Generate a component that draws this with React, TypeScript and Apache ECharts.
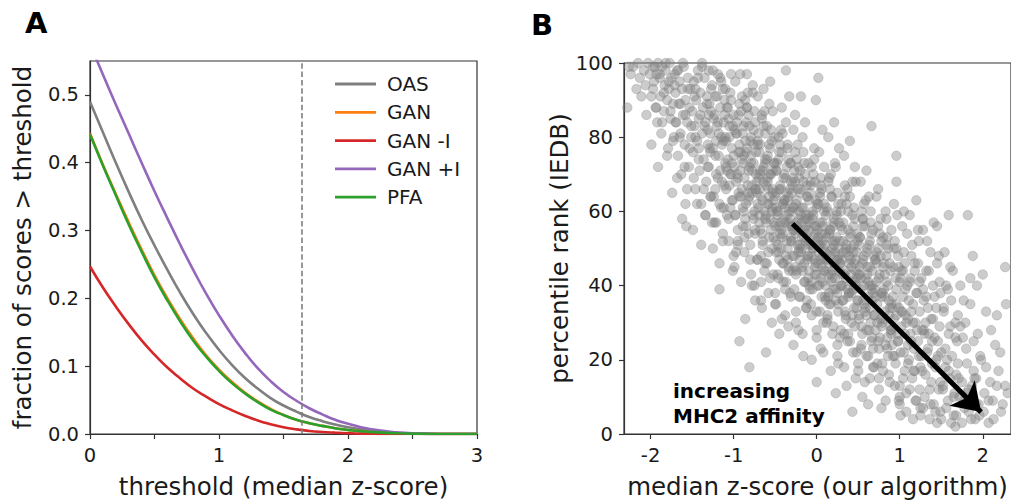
import React, { useEffect, useRef } from "react";
import * as echarts from "echarts";

const FONT = "DejaVu Sans";

// ---------- Panel A data ----------
const thresholds = [
  0, 0.1, 0.2, 0.3, 0.4, 0.5, 0.6, 0.7, 0.8, 0.9, 1.0, 1.1, 1.2, 1.3, 1.4, 1.5,
  1.6, 1.7, 1.8, 1.9, 2.0, 2.1, 2.2, 2.3, 2.4, 2.5, 2.6, 2.7, 2.8, 2.9, 3.0,
];
const oasFraction = [
  0.49, 0.445, 0.4, 0.357, 0.316, 0.278, 0.242, 0.208, 0.177, 0.149, 0.124, 0.102,
  0.083, 0.067, 0.053, 0.042, 0.033, 0.025, 0.019, 0.014, 0.01, 0.007, 0.0045,
  0.003, 0.0015, 0.0008, 0.0003, 0, 0, 0, 0,
];
const ganFraction = [
  0.443, 0.397, 0.354, 0.312, 0.272, 0.234, 0.2, 0.169, 0.141, 0.116, 0.095, 0.077,
  0.061, 0.048, 0.037, 0.028, 0.021, 0.016, 0.012, 0.0085, 0.006, 0.004, 0.0027,
  0.0017, 0.001, 0.0005, 0.0002, 0, 0, 0, 0,
];
const ganMinusIFraction = [
  0.247, 0.216, 0.188, 0.162, 0.138, 0.117, 0.098, 0.082, 0.067, 0.055, 0.044, 0.035,
  0.027, 0.02, 0.0145, 0.01, 0.0068, 0.0045, 0.003, 0.002, 0.0012, 0.0006, 0.0003,
  0, 0, 0, 0, 0, 0, 0, 0,
];
const ganPlusIFraction = [
  0.575, 0.53, 0.486, 0.443, 0.4, 0.358, 0.318, 0.279, 0.242, 0.207, 0.175, 0.146,
  0.12, 0.097, 0.078, 0.062, 0.049, 0.038, 0.029, 0.021, 0.015, 0.01, 0.0065, 0.004,
  0.002, 0.001, 0.0004, 0, 0, 0, 0,
];
const pfaFraction = [
  0.442, 0.396, 0.352, 0.309, 0.269, 0.231, 0.197, 0.166, 0.138, 0.114, 0.093, 0.075,
  0.06, 0.047, 0.036, 0.028, 0.021, 0.016, 0.012, 0.0085, 0.006, 0.004, 0.0027,
  0.0017, 0.001, 0.0005, 0.0002, 0, 0, 0, 0,
];
const cutoffThreshold = 1.64;
const xTicksA = [0, 0.5, 1, 1.5, 2, 2.5, 3];
const xLabelsA = [0, 1, 2, 3];
const yTicksA = [0, 0.1, 0.2, 0.3, 0.4, 0.5];

// ---------- Panel B data ----------
const xTicksB = [-2, -1, 0, 1, 2];
const yTicksB = [0, 20, 40, 60, 80, 100];
const arrowStart = [-0.29, 56.7];
const arrowEnd = [1.98, 5.9];
const scatterPoints: [number, number][] = [
  [-2.28,88],[-2.24,97],[-2.21,99],[-2.17,93],[-2.15,100],[-2.13,96],[-2.26,99],[-2.11,91],
  [-2.08,98],[-2.06,94],[-2.05,86],[-2.03,100],[-2.01,97],[-1.99,91],[-1.97,99],[-1.96,95],[-1.94,88],[-1.93,97],[-1.91,100],[-1.92,84],
  [-1.89,96],[-1.88,91],[-1.87,81],[-1.86,99],[-1.84,87],[-1.83,94],[-1.82,98],[-1.80,90],[-1.79,77],[-1.78,93],[-1.77,100],[-1.76,85],[-1.75,96],[-1.73,89],[-1.72,80],[-1.71,97],
  [-1.70,92],[-1.69,84],[-1.68,98],[-1.67,75],[-1.66,89],[-1.65,95],[-1.64,81],[-1.63,70],[-1.62,93],[-1.61,86],[-1.60,99],[-1.59,78],[-1.58,90],[-1.57,56],[-1.56,84],[-1.55,96],[-1.54,72],[-1.53,88],[-1.52,93],[-1.51,80],[-1.58,62],
  [-1.50,87],[-1.49,76],[-1.48,95],[-1.47,83],[-1.46,66],[-1.45,90],[-1.44,79],[-1.43,98],[-1.42,85],[-1.41,71],[-1.40,92],[-1.39,62],[-1.38,81],[-1.37,88],[-1.36,74],[-1.35,96],[-1.34,84],[-1.33,68],[-1.32,91],[-1.31,78],[-1.30,86],[-1.46,93],[-1.42,77],[-1.38,99],[-1.34,59],[-1.31,82],
  [-1.30,72],[-1.29,89],[-1.28,81],[-1.27,64],[-1.26,94],[-1.25,77],[-1.24,85],[-1.23,57],[-1.22,91],[-1.21,70],[-1.20,83],[-1.19,97],[-1.18,75],[-1.17,62],[-1.16,88],[-1.15,80],[-1.14,68],[-1.13,93],[-1.12,79],[-1.11,86],[-1.10,73],[-1.28,76],[-1.25,98],[-1.22,66],[-1.19,84],[-1.16,71],[-1.13,52],[-1.11,90],[-1.27,87],[-1.21,79],[-1.15,95],[-1.12,61],
  [-1.10,80],[-1.09,66],[-1.08,88],[-1.07,74],[-1.06,58],[-1.05,83],[-1.04,92],[-1.03,70],[-1.02,77],[-1.01,63],[-1.00,86],[-0.99,72],[-0.98,95],[-0.97,68],[-0.96,81],[-0.95,55],[-0.94,76],[-0.93,89],[-0.92,71],[-0.91,64],[-1.09,79],[-1.06,85],[-1.04,61],[-1.02,73],[-0.99,82],[-0.97,49],[-0.95,69],[-0.93,78],[-0.91,87],[-1.08,71],[-1.05,67],[-1.03,90],[-1.00,75],[-0.98,59],[-0.96,84],[-0.94,65],[-0.92,97],[-1.17,39],[-0.93,25],[-1.01,44],
  [-0.90,74],[-0.89,61],[-0.88,83],[-0.87,69],[-0.86,90],[-0.85,56],[-0.84,77],[-0.83,65],[-0.82,86],[-0.81,72],[-0.80,51],[-0.79,80],[-0.78,67],[-0.77,94],[-0.76,73],[-0.75,60],[-0.74,84],[-0.73,70],[-0.72,47],[-0.71,78],[-0.90,66],[-0.88,75],[-0.86,58],[-0.84,88],[-0.82,63],[-0.80,79],[-0.78,71],[-0.76,82],[-0.74,55],[-0.72,68],[-0.89,81],[-0.87,53],[-0.85,76],[-0.83,92],[-0.81,64],[-0.79,73],[-0.77,59],[-0.75,87],[-0.73,66],[-0.71,62],[-0.81,18],[-0.86,31],[-0.78,40],[-0.74,36],[-0.84,97],[-0.71,91],
  [-0.70,69],[-0.69,57],[-0.68,78],[-0.67,64],[-0.66,85],[-0.65,52],[-0.64,72],[-0.63,60],[-0.62,81],[-0.61,67],[-0.60,46],[-0.59,75],[-0.58,62],[-0.57,89],[-0.56,70],[-0.55,55],[-0.54,79],[-0.53,65],[-0.52,43],[-0.51,73],[-0.70,61],[-0.68,70],[-0.66,54],[-0.64,83],[-0.62,58],[-0.60,74],[-0.58,66],[-0.56,77],[-0.54,50],[-0.52,63],[-0.69,76],[-0.67,48],[-0.65,71],[-0.63,87],[-0.61,59],[-0.59,68],[-0.57,53],[-0.55,82],[-0.53,61],[-0.51,57],[-0.61,22],[-0.66,34],[-0.58,38],[-0.54,30],[-0.64,93],[-0.56,95],[-0.69,66],[-0.62,73],[-0.57,64],[-0.53,71],[-0.51,80],[-0.67,41],
  [-0.50,64],[-0.49,52],[-0.48,73],[-0.47,59],[-0.46,80],[-0.45,47],[-0.44,67],[-0.43,55],[-0.42,76],[-0.41,62],[-0.40,41],[-0.39,70],[-0.38,57],[-0.37,84],[-0.36,65],[-0.35,50],[-0.34,74],[-0.33,60],[-0.32,38],[-0.31,68],[-0.50,56],[-0.48,65],[-0.46,49],[-0.44,78],[-0.42,53],[-0.40,69],[-0.38,61],[-0.36,72],[-0.34,45],[-0.32,58],[-0.49,71],[-0.47,43],[-0.45,66],[-0.43,82],[-0.41,54],[-0.39,63],[-0.37,48],[-0.35,77],[-0.33,56],[-0.31,52],[-0.45,27],[-0.38,32],[-0.34,29],[-0.42,88],[-0.37,98],[-0.33,91],[-0.48,60],[-0.44,57],[-0.40,62],[-0.36,59],[-0.32,66],[-0.47,51],[-0.41,46],[-0.35,63],[-0.31,73],[-0.49,35],
  [-0.30,60],[-0.29,48],[-0.28,69],[-0.27,55],[-0.26,76],[-0.25,43],[-0.24,63],[-0.23,51],[-0.22,72],[-0.21,58],[-0.20,37],[-0.19,66],[-0.18,53],[-0.17,80],[-0.16,61],[-0.15,46],[-0.14,70],[-0.13,56],[-0.12,34],[-0.11,64],[-0.30,52],[-0.28,61],[-0.26,45],[-0.24,74],[-0.22,49],[-0.20,65],[-0.18,57],[-0.16,68],[-0.14,41],[-0.12,54],[-0.29,67],[-0.27,39],[-0.25,62],[-0.23,78],[-0.21,50],[-0.19,59],[-0.17,44],[-0.15,73],[-0.13,52],[-0.11,48],[-0.28,24],[-0.22,28],[-0.16,21],[-0.26,86],[-0.19,91],[-0.14,84],[-0.30,56],[-0.25,54],[-0.21,60],[-0.18,50],[-0.13,59],[-0.29,44],[-0.24,57],[-0.20,47],[-0.15,55],[-0.11,58],[-0.27,71],[-0.12,67],
  [-0.10,55],[-0.09,44],[-0.08,65],[-0.07,51],[-0.06,72],[-0.05,39],[-0.04,59],[-0.03,47],[-0.02,68],[-0.01,54],[0.00,33],[0.01,62],[0.02,49],[0.03,76],[0.04,57],[0.05,42],[0.06,66],[0.07,52],[0.08,30],[0.09,60],[-0.10,48],[-0.08,57],[-0.06,41],[-0.04,70],[-0.02,45],[0.00,61],[0.02,53],[0.04,64],[0.06,37],[0.08,50],[-0.09,63],[-0.07,35],[-0.05,58],[-0.03,74],[-0.01,46],[0.01,55],[0.03,40],[0.05,69],[0.07,48],[0.09,44],[0.00,14],[-0.06,20],[0.05,23],[0.02,96],[-0.01,90],[0.07,82],[-0.10,51],[-0.05,50],[-0.01,56],[0.02,46],[0.06,54],[-0.09,40],[-0.04,53],[0.00,43],[0.04,51],[0.08,56],[-0.07,67],[0.09,62],
  [0.10,51],[0.11,40],[0.12,61],[0.13,47],[0.14,68],[0.15,35],[0.16,55],[0.17,43],[0.18,64],[0.19,50],[0.20,29],[0.21,58],[0.22,45],[0.23,72],[0.24,53],[0.25,38],[0.26,62],[0.27,48],[0.28,26],[0.29,56],[0.10,44],[0.12,53],[0.14,37],[0.16,66],[0.18,41],[0.20,57],[0.22,49],[0.24,60],[0.26,33],[0.28,46],[0.11,59],[0.13,31],[0.15,54],[0.17,70],[0.19,42],[0.21,51],[0.23,36],[0.25,65],[0.27,44],[0.29,40],[0.23,11],[0.17,17],[0.26,19],[0.14,80],[0.21,84],[0.27,77],[0.10,47],[0.15,46],[0.19,52],[0.22,42],[0.26,50],[0.11,36],[0.16,49],[0.20,39],[0.24,47],[0.28,52],
  [0.30,47],[0.31,36],[0.32,57],[0.33,43],[0.34,64],[0.35,31],[0.36,51],[0.37,39],[0.38,60],[0.39,46],[0.40,25],[0.41,54],[0.42,41],[0.43,68],[0.44,49],[0.45,34],[0.46,58],[0.47,44],[0.48,22],[0.49,52],[0.30,40],[0.32,49],[0.34,33],[0.36,62],[0.38,37],[0.40,53],[0.42,45],[0.44,56],[0.46,29],[0.48,42],[0.31,55],[0.33,27],[0.35,50],[0.37,66],[0.39,38],[0.41,47],[0.43,32],[0.45,61],[0.47,40],[0.49,36],[0.43,6],[0.36,13],[0.47,15],[0.33,75],[0.40,79],[0.46,72],[0.30,43],[0.35,42],[0.39,48],[0.42,38],[0.45,46],[0.48,49],
  [0.50,43],[0.51,32],[0.52,53],[0.53,39],[0.54,60],[0.55,27],[0.56,47],[0.57,35],[0.58,56],[0.59,42],[0.60,21],[0.61,50],[0.62,37],[0.63,64],[0.64,45],[0.65,30],[0.66,54],[0.67,40],[0.68,18],[0.69,48],[0.50,36],[0.52,45],[0.54,29],[0.56,58],[0.58,33],[0.60,49],[0.62,41],[0.64,52],[0.66,25],[0.68,38],[0.51,51],[0.53,23],[0.55,46],[0.57,62],[0.59,34],[0.61,43],[0.63,28],[0.65,57],[0.67,36],[0.69,32],[0.55,10],[0.62,8],[0.66,83],[0.60,71],[0.53,68],[0.64,15],[0.57,40],[0.67,44],
  [0.70,39],[0.71,28],[0.72,49],[0.73,35],[0.74,56],[0.75,23],[0.76,43],[0.77,31],[0.78,52],[0.79,38],[0.80,17],[0.81,46],[0.82,33],[0.83,60],[0.84,41],[0.85,26],[0.86,50],[0.87,36],[0.88,14],[0.89,44],[0.70,32],[0.72,41],[0.74,25],[0.76,54],[0.78,29],[0.80,45],[0.82,37],[0.84,48],[0.86,21],[0.88,34],[0.71,47],[0.73,19],[0.75,42],[0.77,58],[0.79,30],[0.81,39],[0.83,24],[0.85,53],[0.87,32],[0.89,28],[0.78,7],[0.74,66],
  [0.90,35],[0.91,24],[0.92,45],[0.93,31],[0.94,52],[0.95,19],[0.96,39],[0.97,27],[0.98,48],[0.99,34],[1.00,13],[1.01,42],[1.02,29],[1.03,56],[1.04,37],[1.05,22],[1.06,46],[1.07,32],[1.08,11],[1.09,40],[0.90,28],[0.92,37],[0.94,21],[0.96,50],[0.98,25],[1.00,41],[1.02,33],[1.04,44],[1.06,17],[1.08,30],[0.96,75],[0.96,68],[1.01,5],[0.93,62],[1.05,60],[0.99,9],
  [1.10,31],[1.11,20],[1.12,41],[1.13,27],[1.14,48],[1.15,15],[1.16,35],[1.17,23],[1.18,44],[1.19,30],[1.20,9],[1.21,38],[1.22,25],[1.23,52],[1.24,33],[1.25,18],[1.26,42],[1.27,28],[1.28,7],[1.29,36],[1.10,24],[1.14,33],[1.18,17],[1.22,46],[1.26,21],[1.12,59],[1.20,63],[1.28,55],[1.16,4],[1.24,12],
  [1.30,27],[1.31,16],[1.32,37],[1.34,23],[1.35,44],[1.36,12],[1.38,31],[1.39,19],[1.40,40],[1.42,26],[1.43,6],[1.44,34],[1.46,21],[1.47,48],[1.48,29],[1.49,14],[1.33,52],[1.37,8],[1.41,57],[1.45,56],[1.31,30],[1.39,25],[1.45,3],[1.49,38],
  [1.50,22],[1.52,12],[1.53,33],[1.55,18],[1.56,40],[1.58,9],[1.59,27],[1.60,15],[1.62,36],[1.63,21],[1.65,5],[1.67,30],[1.68,16],[1.59,59],[1.54,49],[1.67,2],[1.61,45],[1.69,25],
  [1.70,19],[1.72,10],[1.73,29],[1.75,14],[1.77,36],[1.78,7],[1.80,23],[1.82,59],[1.83,12],[1.85,42],[1.86,4],[1.88,48],[1.89,17],[1.76,26],
  [1.90,15],[1.92,8],[1.94,27],[1.96,5],[1.98,20],[2.00,43],[2.02,11],[2.04,33],[2.07,3],[2.09,14],
  [2.12,9],[2.15,24],[2.17,32],[2.19,17],[2.22,6],[2.27,45],[2.27,13],
  // second batch read across the broad band
  [-1.99,78],[-1.97,93],[-1.95,99],[-1.93,88],[-1.91,72],[-1.89,97],[-1.86,84],[-1.84,92],[-1.82,100],[-1.80,75],[-1.78,95],[-1.76,87],
  [-1.74,65],[-1.73,79],[-1.71,94],[-1.70,84],[-1.68,69],[-1.67,98],[-1.65,80],[-1.64,89],[-1.62,58],[-1.61,100],[-1.59,72],[-1.58,86],[-1.56,66],[-1.55,93],[-1.53,77],[-1.51,83],
  [-1.49,55],[-1.48,69],[-1.47,91],[-1.46,80],[-1.44,62],[-1.43,96],[-1.42,74],[-1.40,86],[-1.39,51],[-1.38,100],[-1.36,66],[-1.35,83],[-1.34,59],[-1.32,89],[-1.31,72],[-1.30,98],[-1.29,77],[-1.28,64],[-1.27,93],[-1.26,57],
  [-1.25,50],[-1.24,64],[-1.23,86],[-1.22,75],[-1.21,57],[-1.20,91],[-1.19,69],[-1.18,81],[-1.17,46],[-1.16,96],[-1.15,61],[-1.14,78],[-1.13,54],[-1.12,84],[-1.11,67],[-1.10,93],[-1.09,72],[-1.08,59],[-1.07,88],[-1.06,52],[-1.05,80],[-1.04,70],[-1.03,97],[-1.02,63],[-1.01,83],[-1.00,48],
  [-0.99,45],[-0.98,59],[-0.97,81],[-0.96,70],[-0.95,52],[-0.94,86],[-0.93,64],[-0.92,76],[-0.91,41],[-0.90,91],[-0.89,56],[-0.88,73],[-0.87,49],[-0.86,79],[-0.85,62],[-0.84,88],[-0.83,67],[-0.82,54],[-0.81,83],[-0.80,47],[-0.79,75],[-0.78,65],[-0.77,92],[-0.76,58],[-0.76,78],[-0.79,43],[-0.82,71],[-0.85,84],[-0.88,60],[-0.95,51],
  [-0.75,40],[-0.74,54],[-0.73,76],[-0.72,65],[-0.71,47],[-0.70,81],[-0.69,59],[-0.68,71],[-0.67,36],[-0.66,86],[-0.65,51],[-0.64,68],[-0.63,44],[-0.62,74],[-0.61,57],[-0.60,83],[-0.59,62],[-0.58,49],[-0.57,78],[-0.56,42],[-0.55,70],[-0.54,60],[-0.53,87],[-0.52,53],[-0.51,73],[-0.50,38],[-0.74,66],[-0.71,79],[-0.68,55],[-0.65,63],[-0.62,46],[-0.59,69],[-0.56,58],[-0.53,66],
  [-0.50,35],[-0.49,49],[-0.48,71],[-0.47,60],[-0.46,42],[-0.45,76],[-0.44,54],[-0.43,66],[-0.42,31],[-0.41,81],[-0.40,46],[-0.39,63],[-0.38,39],[-0.37,69],[-0.36,52],[-0.35,78],[-0.34,57],[-0.33,44],[-0.32,73],[-0.31,37],[-0.30,65],[-0.29,55],[-0.28,82],[-0.27,48],[-0.26,68],[-0.25,33],[-0.49,61],[-0.46,74],[-0.43,50],[-0.40,58],[-0.37,41],[-0.34,64],[-0.31,53],[-0.28,61],[-0.45,56],[-0.35,47],
  [-0.25,30],[-0.24,44],[-0.23,66],[-0.22,55],[-0.21,37],[-0.20,71],[-0.19,49],[-0.18,61],[-0.17,27],[-0.16,76],[-0.15,41],[-0.14,58],[-0.13,34],[-0.12,64],[-0.11,47],[-0.10,73],[-0.09,52],[-0.08,39],[-0.07,68],[-0.06,32],[-0.05,60],[-0.04,50],[-0.03,77],[-0.02,43],[-0.01,63],[0.00,28],[-0.24,56],[-0.21,69],[-0.18,45],[-0.15,53],[-0.12,36],[-0.09,59],[-0.06,48],[-0.03,56],[-0.20,51],[-0.10,42],
  [0.00,26],[0.01,40],[0.02,62],[0.03,51],[0.04,33],[0.05,67],[0.06,45],[0.07,57],[0.08,22],[0.09,72],[0.10,37],[0.11,54],[0.12,30],[0.13,60],[0.14,43],[0.15,69],[0.16,48],[0.17,35],[0.18,64],[0.19,27],[0.20,56],[0.21,46],[0.22,73],[0.23,39],[0.24,59],[0.25,24],[0.01,52],[0.04,65],[0.07,41],[0.10,49],[0.13,32],[0.16,55],[0.19,44],[0.22,52],[0.05,47],[0.15,38],
  [0.25,21],[0.26,35],[0.27,57],[0.28,46],[0.29,28],[0.30,62],[0.31,40],[0.32,52],[0.33,18],[0.34,67],[0.35,32],[0.36,49],[0.37,25],[0.38,55],[0.39,38],[0.40,64],[0.41,43],[0.42,30],[0.43,59],[0.44,22],[0.45,51],[0.46,41],[0.47,68],[0.48,34],[0.49,54],[0.50,19],[0.26,47],[0.29,60],[0.32,36],[0.35,44],[0.38,27],[0.41,50],[0.44,39],[0.47,47],
  [0.50,17],[0.51,31],[0.52,53],[0.53,42],[0.54,24],[0.55,58],[0.56,36],[0.57,48],[0.58,14],[0.59,63],[0.60,28],[0.61,45],[0.62,21],[0.63,51],[0.64,34],[0.65,60],[0.66,39],[0.67,26],[0.68,55],[0.69,18],[0.70,47],[0.71,37],[0.72,64],[0.73,30],[0.74,50],[0.75,15],[0.52,43],[0.56,56],[0.60,32],[0.64,40],[0.68,23],[0.72,46],
  [0.75,12],[0.76,26],[0.77,48],[0.78,37],[0.79,19],[0.80,53],[0.81,31],[0.82,43],[0.83,9],[0.84,58],[0.85,23],[0.86,40],[0.87,16],[0.88,46],[0.89,29],[0.90,55],[0.91,34],[0.92,21],[0.93,50],[0.94,13],[0.95,42],[0.96,32],[0.97,59],[0.98,25],[0.99,45],[1.00,10],[0.78,38],[0.84,51],[0.90,27],[0.96,35],
  [1.00,8],[1.01,22],[1.02,44],[1.03,33],[1.04,15],[1.05,49],[1.06,27],[1.07,39],[1.08,6],[1.09,54],[1.10,19],[1.11,36],[1.12,12],[1.13,42],[1.14,25],[1.15,51],[1.16,30],[1.17,17],[1.18,46],[1.19,9],[1.20,38],[1.21,28],[1.22,55],[1.23,21],[1.24,41],[1.25,7],
  [1.25,5],[1.27,17],[1.28,39],[1.29,28],[1.30,10],[1.32,44],[1.33,22],[1.34,34],[1.36,4],[1.37,49],[1.38,14],[1.40,31],[1.41,8],[1.42,37],[1.44,20],[1.45,46],[1.46,25],[1.47,12],[1.48,41],[1.49,6],[1.35,27],[1.43,18],
  [1.50,4],[1.52,13],[1.53,34],[1.55,23],[1.56,7],[1.58,39],[1.59,17],[1.61,29],[1.62,3],[1.64,44],[1.65,10],[1.67,26],[1.68,5],[1.70,32],[1.71,15],[1.73,40],[1.57,20],[1.66,11],
  [1.75,3],[1.77,9],[1.79,30],[1.81,19],[1.83,6],[1.85,35],[1.87,13],[1.89,25],[1.91,4],[1.93,40],[1.95,8],[1.97,21],[1.80,11],[1.92,15],
  [2.01,6],[2.04,18],[2.07,9],[2.10,28],[2.13,4],[2.17,13],[2.21,22],[2.24,8],[2.28,35],[2.30,11],
];

const AXIS_COLOR = "#333333";
const TEXT_COLOR = "#1a1a1a";

function lineSeries(name: string, values: number[], color: string, extra: any = {}) {
  return {
    type: "line",
    name,
    xAxisIndex: 0,
    yAxisIndex: 0,
    data: thresholds.map((t, i) => [t, values[i]]),
    symbol: "none",
    showSymbol: false,
    smooth: 0.5,
    clip: true,
    lineStyle: { color, width: 2.6 },
    itemStyle: { color },
    emphasis: { disabled: true },
    ...extra,
  };
}

function axisCommon(tickValues: number[], labelValues: number[], fmt?: (v: number) => string) {
  return {
    axisLine: { show: true, onZero: false, lineStyle: { color: AXIS_COLOR, width: 1.2 } },
    axisTick: { show: true, length: 5, customValues: tickValues, lineStyle: { color: AXIS_COLOR, width: 1.2 } },
    axisLabel: {
      customValues: labelValues,
      fontSize: 19.5,
      fontFamily: FONT,
      color: TEXT_COLOR,
      margin: 11,
      formatter: fmt ? (v: number) => fmt(v) : undefined,
    },
    splitLine: { show: false },
    nameLocation: "middle",
    nameTextStyle: { fontSize: 24.5, fontFamily: FONT, color: TEXT_COLOR },
  };
}

export default function App() {
  const ref = useRef<HTMLDivElement>(null);
  useEffect(() => {
    if (!ref.current) return;
    const chart = echarts.init(ref.current, undefined, { renderer: "svg" });
    const option: any = {
      animation: false,
      textStyle: { fontFamily: FONT },
      grid: [
        { left: 90, top: 61, width: 387, height: 376, show: true, borderColor: AXIS_COLOR, borderWidth: 1.2, containLabel: false },
        { left: 624, top: 63, width: 388, height: 376, show: true, borderColor: AXIS_COLOR, borderWidth: 1.2, containLabel: false },
      ],
      xAxis: [
        {
          type: "value",
          gridIndex: 0,
          min: 0,
          max: 3,
          name: "threshold (median z-score)",
          nameGap: 40,
          ...axisCommon(xTicksA, xLabelsA, (v) => String(Math.round(v))),
        },
        {
          type: "value",
          gridIndex: 1,
          min: -2.32,
          max: 2.34,
          name: "median z-score (our algorithm)",
          nameGap: 40,
          ...axisCommon(xTicksB, xTicksB, (v) => String(Math.round(v))),
        },
      ],
      yAxis: [
        {
          type: "value",
          gridIndex: 0,
          min: 0,
          max: 0.55,
          name: "fraction of scores > threshold",
          nameGap: 55,
          ...axisCommon(yTicksA, yTicksA, (v) => v.toFixed(1)),
        },
        {
          type: "value",
          gridIndex: 1,
          min: 0,
          max: 100,
          name: "percentile rank (IEDB)",
          nameGap: 52,
          ...axisCommon(yTicksB, yTicksB, (v) => String(Math.round(v))),
        },
      ],
      legend: {
        orient: "vertical",
        left: 335,
        top: 74,
        padding: 0,
        icon: "rect",
        itemWidth: 41,
        itemHeight: 2.8,
        itemGap: 8.3,
        selectedMode: false,
        textStyle: { fontSize: 20, fontFamily: FONT, color: TEXT_COLOR, lineHeight: 20, padding: [0, 0, 0, 6] },
        data: ["OAS", "GAN", "GAN -I", "GAN +I", "PFA"],
      },
      series: [
        lineSeries("OAS", oasFraction, "#7f7f7f", {
          markLine: {
            silent: true,
            symbol: ["none", "none"],
            label: { show: false },
            lineStyle: { color: "#7f7f7f", width: 1.6, type: [5.5, 2.8] },
            data: [{ xAxis: cutoffThreshold }],
          },
        }),
        lineSeries("GAN", ganFraction, "#ff7f0e"),
        lineSeries("GAN -I", ganMinusIFraction, "#d62728"),
        lineSeries("GAN +I", ganPlusIFraction, "#9467bd"),
        lineSeries("PFA", pfaFraction, "#2ca02c"),
        {
          type: "scatter",
          name: "peptides",
          xAxisIndex: 1,
          yAxisIndex: 1,
          data: scatterPoints,
          symbolSize: 9.5,
          itemStyle: { color: "rgba(128,128,128,0.5)", borderColor: "rgba(128,128,128,0.5)", borderWidth: 0.8 },
          emphasis: { disabled: true },
          markLine: {
            silent: true,
            symbol: ["none", "arrow"],
            symbolSize: 27,
            label: { show: false },
            lineStyle: { color: "#000", width: 5, type: "solid" },
            itemStyle: { color: "#000" },
            data: [[{ coord: arrowStart }, { coord: arrowEnd }]],
          },
        },
      ],
      graphic: [
        { type: "text", left: 25, top: 8, style: { text: "A", font: `bold 29px "${FONT}"`, fill: "#000" } },
        { type: "text", left: 531, top: 10, style: { text: "B", font: `bold 29px "${FONT}"`, fill: "#000" } },
        {
          type: "text",
          left: 673,
          top: 378,
          z: 100,
          style: { text: "increasing\nMHC2 affinity", font: `bold 20px "${FONT}"`, lineHeight: 25, fill: "#000" },
        },
      ],
    };
    chart.setOption(option);
    return () => chart.dispose();
  }, []);
  return <div ref={ref} style={{ position: "fixed", left: 0, top: 0, width: 1011, height: 504, background: "#fff" }} />;
}
